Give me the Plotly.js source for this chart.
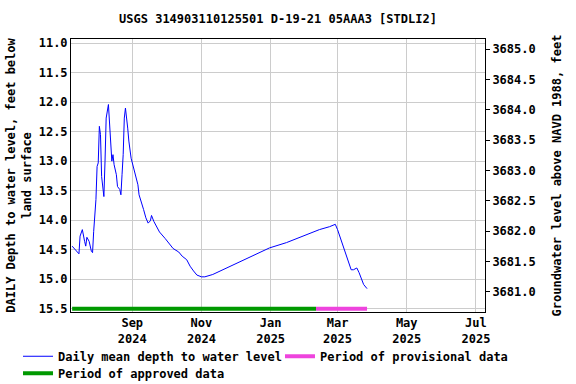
<!DOCTYPE html>
<html>
<head>
<meta charset="utf-8">
<script src="https://cdn.plot.ly/plotly-3.0.1.min.js"></script>
<style>html,body{margin:0;padding:0;background:#fff;}#chart{width:576px;height:384px;}</style>
</head>
<body>
<div id="chart"></div>
<script>
const dates = [
 '2024-07-10','2024-07-16','2024-07-17','2024-07-19','2024-07-21','2024-07-22','2024-07-23','2024-07-25',
 '2024-07-27','2024-07-28','2024-07-29','2024-07-31','2024-08-01','2024-08-02','2024-08-03','2024-08-04',
 '2024-08-05','2024-08-06','2024-08-07','2024-08-08','2024-08-09','2024-08-11','2024-08-12','2024-08-13',
 '2024-08-14','2024-08-15','2024-08-16','2024-08-18','2024-08-19','2024-08-21','2024-08-22','2024-08-23',
 '2024-08-24','2024-08-25','2024-08-26','2024-08-28','2024-08-29','2024-08-31','2024-09-02','2024-09-04',
 '2024-09-06','2024-09-07','2024-09-09','2024-09-11','2024-09-13','2024-09-15','2024-09-17','2024-09-18',
 '2024-09-20','2024-09-22','2024-09-25','2024-09-30','2024-10-04','2024-10-07','2024-10-12','2024-10-15',
 '2024-10-19','2024-10-22','2024-10-25','2024-10-28','2024-11-01','2024-11-04','2024-11-11','2024-11-23',
 '2024-12-08','2024-12-22','2024-12-31','2025-01-15','2025-01-29','2025-02-13','2025-02-22','2025-02-27',
 '2025-03-01','2025-03-04','2025-03-08','2025-03-11','2025-03-13','2025-03-15','2025-03-18','2025-03-20',
 '2025-03-22','2025-03-24','2025-03-27'
];
const depth = [
 14.44,14.57,14.27,14.16,14.36,14.44,14.29,14.36,
 14.53,14.55,14.19,13.65,13.09,13.03,12.41,12.55,
 13.26,13.51,13.60,13.00,12.27,12.04,12.33,12.72,
 13.00,12.89,13.06,13.23,13.43,13.48,13.57,13.23,
 12.89,12.27,12.10,12.44,12.66,12.95,13.09,13.23,
 13.40,13.57,13.68,13.82,13.96,14.05,14.01,13.92,
 14.02,14.10,14.20,14.31,14.40,14.48,14.54,14.61,
 14.67,14.78,14.86,14.93,14.96,14.96,14.92,14.81,
 14.67,14.54,14.47,14.38,14.27,14.16,14.11,14.07,
 14.16,14.33,14.58,14.72,14.84,14.84,14.81,14.89,
 15.01,15.09,15.16
];
const approvedPeriod = ['2024-07-10','2025-02-10'];
const provisionalPeriod = ['2025-02-10','2025-03-27'];
const periodLevel = [15.5, 15.5];

const FONT = 'DejaVu Sans Mono, monospace';
const f = {family: FONT, size: 12, color: '#000', weight: 'bold'};

const traces = [
 {x: approvedPeriod, y: periodLevel, mode: 'lines', name: 'Period of approved data',
  line: {color: '#009900', width: 4}, legend: 'legend2', hoverinfo: 'skip'},
 {x: provisionalPeriod, y: periodLevel, mode: 'lines', name: 'Period of provisional data',
  line: {color: '#ee44dd', width: 4}, legend: 'legend3', hoverinfo: 'skip'},
 {x: dates, y: depth, mode: 'lines', name: 'Daily mean depth to water level',
  line: {color: '#0000ff', width: 1}, legend: 'legend'}
];

// invisible helper so the right-hand axis is drawn
traces.push({x: [approvedPeriod[0]], y: [3681], yaxis: 'y2', mode: 'markers',
  marker: {opacity: 0}, showlegend: false, hoverinfo: 'skip'});

const legendBase = {orientation: 'h', xanchor: 'left', yanchor: 'top',
  font: f, bgcolor: 'rgba(0,0,0,0)', borderwidth: 0, itemwidth: 30};

const layout = {
 width: 576, height: 384,
 margin: {l: 71, r: 91, t: 39, b: 72, autoexpand: false},
 paper_bgcolor: '#fff', plot_bgcolor: '#fff',
 font: f,
 title: {text: 'USGS 314903110125501 D-19-21 05AAA3 [STDLI2]', font: f,
   x: 0.4826, xanchor: 'center', y: 0.95, yanchor: 'middle', yref: 'container'},
 xaxis: {
   type: 'date', range: ['2024-07-09', '2025-07-09'],
   tick0: '2024-09-01', dtick: 'M2', tickformat: '%b<br>%Y',
   showgrid: true, gridcolor: '#cccccc', gridwidth: 1,
   showline: true, linecolor: '#000', linewidth: 1, mirror: true,
   ticks: '', tickfont: f, zeroline: false, automargin: false
 },
 yaxis: {
   range: [15.556, 10.93], dtick: 0.5, tick0: 11, tickformat: '.1f',
   showgrid: true, gridcolor: '#cccccc', gridwidth: 1,
   showline: true, linecolor: '#000', linewidth: 1, mirror: true,
   ticks: '', tickfont: f, zeroline: false, automargin: false,
   title: {text: 'DAILY Depth to water level, feet below<br>land surface', font: f, standoff: 4}
 },
 yaxis2: {
   overlaying: 'y', side: 'right', range: [3680.665, 3685.165],
   dtick: 0.5, tick0: 3681, tickformat: '.1f',
   showgrid: false, zeroline: false, ticks: 'outside', ticklen: 4, tickcolor: '#000',
   tickfont: f, showline: false, automargin: false,
   title: {text: 'Groundwater level above NAVD 1988, feet', font: f, standoff: 17}
 },
 showlegend: true,
 legend: Object.assign({}, legendBase, {x: -0.128, y: -0.109}),
 legend3: Object.assign({}, legendBase, {x: 0.5048, y: -0.109}),
 legend2: Object.assign({}, legendBase, {x: -0.128, y: -0.171})
};

Plotly.newPlot('chart', traces, layout, {staticPlot: true, displayModeBar: false});
</script>
</body>
</html>
